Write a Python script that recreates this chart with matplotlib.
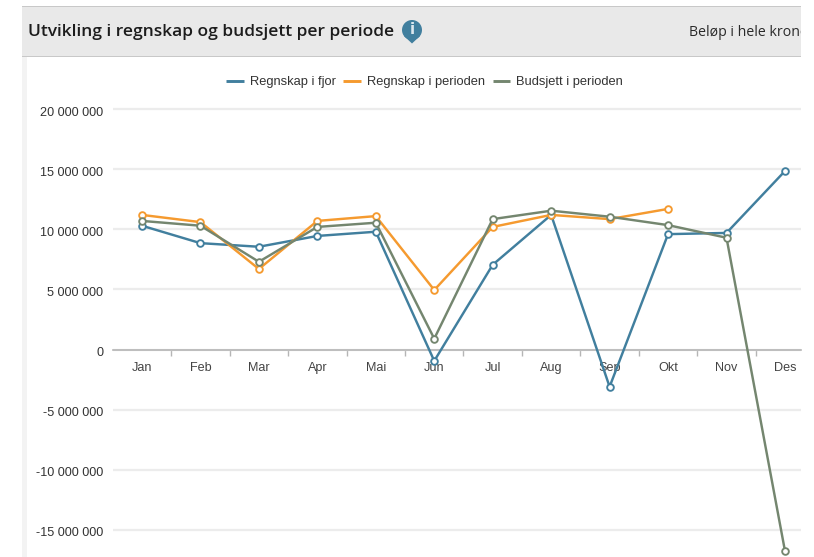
import matplotlib
matplotlib.use("Agg")
import matplotlib.pyplot as plt
from matplotlib.patches import Rectangle, Circle, Polygon
from matplotlib.ticker import FuncFormatter
from matplotlib.transforms import ScaledTranslation

# =========================
# Data (millions of kroner)
# =========================
months = ["Jan", "Feb", "Mar", "Apr", "Mai", "Jun", "Jul", "Aug", "Sep", "Okt", "Nov", "Des"]
regnskap_fjor = [10.3, 8.85, 8.55, 9.45, 9.8, -0.95, 7.05, 11.2, -3.1, 9.6, 9.7, 14.85]
regnskap_perioden = [11.2, 10.6, 6.7, 10.7, 11.1, 4.95, 10.2, 11.2, 10.85, 11.7]
budsjett_perioden = [10.7, 10.3, 7.3, 10.2, 10.55, 0.9, 10.85, 11.55, 11.05, 10.35, 9.3, -16.75]
y_ticks = [-15, -10, -5, 0, 5, 10, 15, 20]

W, H = 814, 557
BLUE = "#417f9e"
ORANGE = "#f59a2f"
GREEN = "#74866f"
plt.rcParams["font.family"] = ["Liberation Sans", "DejaVu Sans"]

fig = plt.figure(figsize=(W / 100, H / 100), dpi=100, facecolor="white")


def px_rect(x0, y0, x1, y1, **kw):
    fig.add_artist(Rectangle((x0 / W, 1 - y1 / H), (x1 - x0) / W, (y1 - y0) / H,
                             transform=fig.transFigure, linewidth=0, **kw))


# =========================
# Page furniture
# =========================
px_rect(22, 6, 801, 56, facecolor="#e9e9e9")
px_rect(22, 6, 801, 7, facecolor="#c8c8c8")
px_rect(22, 56, 801, 57, facecolor="#c8c8c8")
px_rect(22, 57, 27, H, facecolor="#f3f3f3")

fig.text(28 / W, 1 - 32 / H, "Utvikling i regnskap og budsjett per periode",
         family="Open Sans", weight="semibold", fontsize=12.55, color="#1c1c1c", va="center")

# info icon
ix, iy = 412, 30
ax_icon = fig.add_axes([(ix - 12) / W, 1 - (iy + 14) / H, 24 / W, 28 / H], zorder=5)
ax_icon.set_xlim(-12, 12)
ax_icon.set_ylim(-14, 14)
ax_icon.axis("off")
ax_icon.add_patch(Polygon([(-8, -6), (8, -6), (0, -13.5)], facecolor=BLUE, linewidth=0))
ax_icon.add_patch(Circle((0, 0), 10, facecolor=BLUE, linewidth=0))
ax_icon.text(0, 0.2, "i", color="#dce8ee", fontsize=11, weight="bold", ha="center", va="center",
             family="DejaVu Sans")

unit = fig.text(689 / W, 1 - 32 / H, "Beløp i hele kroner", family="Open Sans",
                fontsize=10.2, color="#2a2a2a", va="center")
unit.set_clip_path(Rectangle((0, 0), 801, H, transform=None))

# =========================
# Chart
# =========================
ax_left, ax_right = 113, 801
ax_top, ax_bottom = 97, 557
zero_px, px_per_m = 349.5, 12.017
cat_w, jan_px = 58.45, 142

ax = fig.add_axes([ax_left / W, 1 - ax_bottom / H, (ax_right - ax_left) / W, (ax_bottom - ax_top) / H])
ax.patch.set_alpha(0)

style = dict(linewidth=1.75, marker="o", markersize=4.8, markerfacecolor="white",
             markeredgewidth=1.35, zorder=4)
ax.plot(range(12), regnskap_fjor, color=BLUE, label="Regnskap i fjor", **style)
ax.plot(range(10), regnskap_perioden, color=ORANGE, label="Regnskap i perioden", **style)
ax.plot(range(12), budsjett_perioden, color=GREEN, label="Budsjett i perioden", **style)

ax.set_yticks(y_ticks)
ax.yaxis.set_major_formatter(FuncFormatter(lambda v, _: f"{int(v * 1000000):,}".replace(",", " ")))
ax.tick_params(axis="y", length=0, pad=7, labelsize=9.1, labelcolor="#333333")
ax.grid(axis="y", color="#ececec", linewidth=1.6)
ax.set_axisbelow(True)

ax.set_xticks(range(12), months)
ax.set_xticks([i - 0.5 for i in range(12)], minor=True)
ax.tick_params(axis="x", which="major", length=0, pad=9, labelsize=9.1, labelcolor="#444444")
ax.tick_params(axis="x", which="minor", length=4, width=1, color="#b5b5b5")

# limits after the ticks, otherwise the ticks widen them
ax.set_xlim((ax_left - jan_px) / cat_w, (ax_right - jan_px) / cat_w)
ax.set_ylim((zero_px - ax_bottom) / px_per_m, (zero_px - ax_top) / px_per_m)

# y labels sit a little below their gridlines
nudge = ScaledTranslation(0, -2.2 / 100, fig.dpi_scale_trans)
for lab in ax.get_yticklabels():
    lab.set_transform(lab.get_transform() + nudge)

for s in ["top", "right", "left"]:
    ax.spines[s].set_visible(False)
ax.spines["bottom"].set_position(("data", 0))
ax.spines["bottom"].set_color("#b5b5b5")
ax.spines["bottom"].set_linewidth(1.2)

leg = ax.legend(loc="center", bbox_to_anchor=(424.5 / W, 1 - 82 / H), bbox_transform=fig.transFigure,
                ncol=3, frameon=False, fontsize=9.3, handlelength=1.36, handletextpad=0.46,
                columnspacing=0.6, borderpad=0, labelcolor="#333333")
for h in leg.get_lines():
    h.set_marker("")
    h.set_linewidth(2.1)
    h.set_solid_capstyle("butt")

fig.savefig("out.png", dpi=100)
